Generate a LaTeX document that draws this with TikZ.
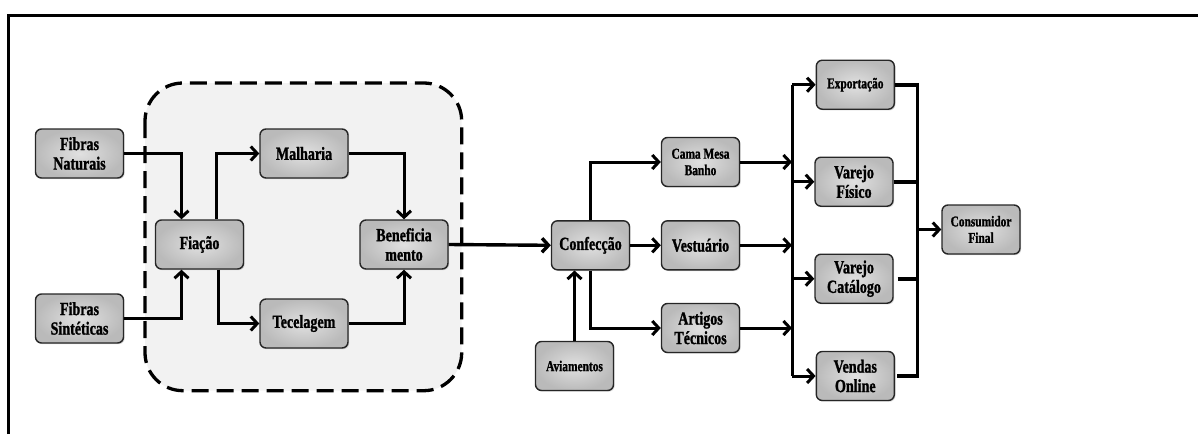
\documentclass[tikz,border=0pt]{standalone}
\usepackage{fontspec}
\setmainfont[FakeStretch=0.76, BoldFeatures={FakeBold=1.2}]{Liberation Serif}
\usetikzlibrary{arrows.meta,shadows}
\begin{document}
\begin{tikzpicture}[x=1pt,y=-1pt,
  box/.style={draw=black!85, line width=1.4pt, rounded corners=6pt,
    inner color=black!12, outer color=black!27,
    minimum width=88pt, minimum height=49pt, align=center, inner sep=0pt,
    font=\bfseries\fontsize{18.5}{19.5}\selectfont,
    drop shadow={opacity=0.3, shadow xshift=1.2pt, shadow yshift=-1.2pt}},
  narrowbox/.style={box, minimum width=78pt},
  smallbox/.style={narrowbox, font=\bfseries\fontsize{15}{16.5}\selectfont},
  conn/.style={line width=3pt, -{Straight Barb[length=6.5pt,width=14pt]}},
  busline/.style={line width=3pt},
  thickline/.style={line width=3.6pt},
  region/.style={draw=black, fill=black!5, line width=3.3pt, rounded corners=38pt,
    dash pattern=on 17pt off 8pt}]
\useasboundingbox (0,0) rectangle (1198,434);
% frame
\draw[line width=3pt, line join=miter] (8.7,434) -- (8.7,15.7) -- (1198,15.7);
% dashed region
\draw[region] (145,83) rectangle (461.7,390.7);
% nodes
\node[box] (fn) at (79.5,153.5) {Fibras\\Naturais};
\node[box] (fs) at (79.5,318.5) {Fibras\\Sintéticas};
\node[box] (fi) at (199.5,244.5) {Fiação};
\node[box] (ma) at (304,153.5) {Malharia};
\node[box] (te) at (304,323.5) {Tecelagem};
\node[box] (be) at (404,244.5) {Beneficia\\mento};
\node[narrowbox] (co) at (590.5,245.3) {Confecção};
\node[smallbox] (av) at (574.5,366) {Aviamentos};
\node[smallbox] (cm) at (700.5,162) {Cama Mesa\\Banho};
\node[narrowbox] (ve) at (700.5,245.3) {Vestuário};
\node[narrowbox] (ar) at (700.5,328) {Artigos\\Técnicos};
\node[smallbox] (ex) at (855.3,84.7) {Exportação};
\node[narrowbox] (vf) at (854,181.7) {Varejo\\Físico};
\node[narrowbox] (vc) at (854,278.7) {Varejo\\Catálogo};
\node[narrowbox] (vo) at (855.3,376) {Vendas\\Online};
\node[smallbox] (cf) at (981,229.5) {Consumidor\\Final};
% connectors
\draw[conn] (fn.east) -| ([xshift=-18pt]fi.north);
\draw[conn] (fs.east) -| ([xshift=-18pt]fi.south);
\draw[conn] ([xshift=17pt]fi.north) |- (ma.west);
\draw[conn] ([xshift=19pt]fi.south) |- (te.west);
\draw[conn] (ma.east) -| (be.north);
\draw[conn] (te.east) -| (be.south);
\draw[conn, line width=3.4pt] (be.east) -- (co.west);
\draw[conn] (co.north) |- (cm.west);
\draw[conn] (co.east) -- (ve.west);
\draw[conn] (co.south) |- (ar.west);
\draw[conn] (av.north) -- (av.north |- co.south);
% left bus
\coordinate (bus) at (792,0);
\draw[busline] (bus |- ex.west) -- (bus |- vo.west);
\draw[conn] (cm.east) -- (bus |- cm.east);
\draw[conn] (ve.east) -- (bus |- ve.east);
\draw[conn] (ar.east) -- (bus |- ar.east);
\draw[conn] (bus |- ex.west) -- (ex.west);
\draw[conn] (bus |- vf.west) -- (vf.west);
\draw[conn] (bus |- vc.west) -- (vc.west);
\draw[conn] (bus |- vo.west) -- (vo.west);
% right bus
\coordinate (rb) at (917,0);
\draw[thickline] (ex.east) -- (rb |- ex.east);
\draw[thickline] (vf.east) -- (rb |- vf.east);
\draw[thickline] ([xshift=4pt]vc.east) -- (rb |- vc.east);
\draw[thickline] ([xshift=2pt]vo.east) -- (rb |- vo.east);
\draw[busline] ([yshift=1.8pt]rb |- ex.east) -- ([yshift=-1.8pt]rb |- vo.east);
\draw[conn] (rb |- cf.west) -- (cf.west);
\end{tikzpicture}
\end{document}
